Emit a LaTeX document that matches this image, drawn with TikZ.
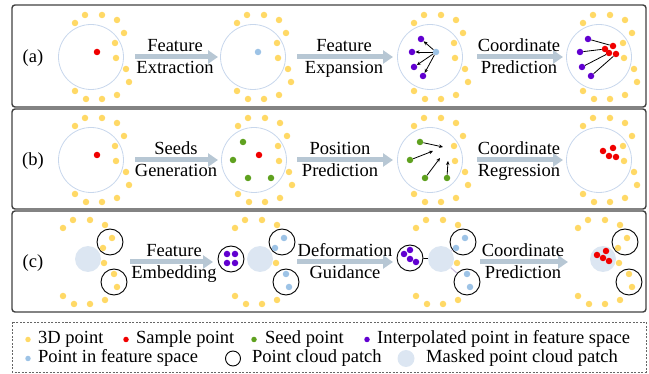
\documentclass[tikz,border=0pt]{standalone}
\usepackage{fontspec}
\setmainfont{Liberation Serif}
\usetikzlibrary{arrows.meta}
\definecolor{ptyellow}{HTML}{FFD966}
\definecolor{ptred}{HTML}{F00000}
\definecolor{ptgreen}{HTML}{5FA11F}
\definecolor{ptpurple}{HTML}{6100D0}
\definecolor{ptblue}{HTML}{9DC3E6}
\definecolor{ringc}{HTML}{C8D7EC}
\definecolor{maskfill}{HTML}{DCE6F2}
\definecolor{flowc}{HTML}{B7C7D4}
\definecolor{framec}{HTML}{404040}
\definecolor{guidec}{HTML}{CDBFDD}
\tikzset{
  ptdot/.style={circle, inner sep=0pt, minimum size=6.5pt, draw=none},
  ydot/.style={ptdot, fill=ptyellow},
  rdot/.style={ptdot, fill=ptred},
  gdot/.style={ptdot, fill=ptgreen},
  pdot/.style={ptdot, fill=ptpurple},
  bdot/.style={ptdot, fill=ptblue},
  bigring/.style={circle, draw=ringc, line width=0.8pt, minimum size=65pt, inner sep=0pt},
  patchring/.style={circle, draw=black, line width=0.9pt, minimum size=26pt, inner sep=0pt},
  maskdisk/.style={circle, fill=maskfill, minimum size=26pt, inner sep=0pt},
  flowarrow/.style={line width=5pt, draw=flowc, -{Triangle[length=10pt,width=13pt]}},
  panelframe/.style={draw=framec, line width=1.4pt, rounded corners=3pt},
  txt/.style={font=\fontsize{18.5}{22}\selectfont, inner sep=0pt},
  steplbl/.style={txt, anchor=base},
  legtxt/.style={txt, anchor=base west},
  ptarrow/.style={-{Stealth[length=4pt,width=3.5pt]}, line width=0.8pt, black},
}
% yellow ring of 3D points around centre (#2,#3); #4 = colour of the four patch points
\newcommand{\ptring}[4]{%
  \foreach \dx/\dy [count=\i] in {-6/-42, 11/-42, 26/-37, -16/-34, 25/1, -16/34, 26/38, -5/42, 11/42}
    \node[ydot] (#1y\i) at (#2+\dx, #3+\dy) {};
  \foreach \dx/\dy [count=\i] in {33/-24, 24/-14, 35/12, 38/25}
    \node[ptdot, fill=#4] (#1q\i) at (#2+\dx, #3+\dy) {};
}
\begin{document}
\begin{tikzpicture}[x=1pt, y=-1pt]
\useasboundingbox (0,0) rectangle (649,374);

% ---------- frames ----------
\draw[panelframe] (12,5) rectangle (646,107);
\draw[panelframe] (12,109) rectangle (646,209);
\draw[panelframe] (12,211) rectangle (646,312);
\draw[draw=gray!80!black, line width=0.8pt, dash pattern=on 2pt off 1.5pt] (12,322) rectangle (646,372);

% ---------- row labels ----------
\node[txt] (la) at (33,58) {(a)};
\node[txt] (lb) at (33,161) {(b)};
\node[txt] (lc) at (33,263) {(c)};

% ================= (a) =================
\node[bigring] (ra1) at (91,57) {};
\ptring{a1}{91}{57}{ptyellow}
\node[rdot] (a1r) at (97,52) {};

\node[bigring] (ra2) at (253,57) {};
\ptring{a2}{253}{57}{ptyellow}
\node[bdot] (a2b) at (258,52) {};

\node[bigring] (ra3) at (430,57) {};
\ptring{a3}{430}{57}{ptyellow}
\node[bdot] (a3b) at (436,52) {};
\node[pdot] (a3p1) at (421,39) {};
\node[pdot] (a3p2) at (412,52) {};
\node[pdot] (a3p3) at (414,67) {};
\node[pdot] (a3p4) at (423,76) {};
\foreach \k in {1,2,3,4} \draw[ptarrow] (a3b) -- (a3p\k);

\node[bigring] (ra4) at (599,57) {};
\ptring{a4}{599}{57}{ptyellow}
\node[pdot] (a4p1) at (588,39) {};
\node[pdot] (a4p2) at (580,52) {};
\node[pdot] (a4p3) at (582,67) {};
\node[pdot] (a4p4) at (591,76) {};
\node[rdot] (a4r1) at (613,46) {};
\node[rdot] (a4r2) at (605,49) {};
\node[rdot] (a4r3) at (609,53) {};
\node[rdot] (a4r4) at (616,54) {};
\foreach \k in {1,2,3,4} \draw[line width=0.8pt] (a4p\k) -- (a4r\k);

\coordinate (fa1s) at (135,57); \coordinate (fa1e) at (218,57);
\coordinate (fa2s) at (297,57); \coordinate (fa2e) at (393,57);
\coordinate (fa3s) at (477,57); \coordinate (fa3e) at (563,57);
\draw[flowarrow] (fa1s) -- (fa1e);
\draw[flowarrow] (fa2s) -- (fa2e);
\draw[flowarrow] (fa3s) -- (fa3e);
\node[steplbl] (ta1u) at (175,52) {Feature};
\node[steplbl] (ta1d) at (175,74) {Extraction};
\node[steplbl] (ta2u) at (344,52) {Feature};
\node[steplbl] (ta2d) at (344,74) {Expansion};
\node[steplbl] (ta3u) at (519,52) {Coordinate};
\node[steplbl] (ta3d) at (519,74) {Prediction};

% ================= (b) =================
\node[bigring] (rb1) at (91,160) {};
\ptring{b1}{91}{160}{ptyellow}
\node[rdot] (b1r) at (97,155) {};

\node[bigring] (rb2) at (254,160) {};
\ptring{b2}{254}{160}{ptyellow}
\node[rdot] (b2r) at (259,155) {};
\node[gdot] (b2g1) at (243,142) {};
\node[gdot] (b2g2) at (233,160) {};
\node[gdot] (b2g3) at (248,178) {};
\node[gdot] (b2g4) at (271,178) {};

\node[bigring] (rb3) at (430,160) {};
\ptring{b3}{430}{160}{ptyellow}
\node[gdot] (b3g1) at (420,142) {};
\node[gdot] (b3g2) at (410,160) {};
\node[gdot] (b3g3) at (425,178) {};
\node[gdot] (b3g4) at (447,178) {};
\coordinate (b3t1) at (443,147);
\coordinate (b3t2) at (433,151);
\coordinate (b3t3) at (440,158);
\coordinate (b3t4) at (448,161);
\foreach \k in {1,2,3,4} \draw[ptarrow] (b3g\k) -- (b3t\k);

\node[bigring] (rb4) at (599,160) {};
\ptring{b4}{599}{160}{ptyellow}
\node[rdot] (b4r1) at (603,151) {};
\node[rdot] (b4r2) at (613,148) {};
\node[rdot] (b4r3) at (609,156) {};
\node[rdot] (b4r4) at (616,157) {};

\coordinate (fb1s) at (135,160); \coordinate (fb1e) at (218,160);
\coordinate (fb2s) at (297,160); \coordinate (fb2e) at (393,160);
\coordinate (fb3s) at (477,160); \coordinate (fb3e) at (563,160);
\draw[flowarrow] (fb1s) -- (fb1e);
\draw[flowarrow] (fb2s) -- (fb2e);
\draw[flowarrow] (fb3s) -- (fb3e);
\node[steplbl] (tb1u) at (176,155) {Seeds};
\node[steplbl] (tb1d) at (176,177) {Generation};
\node[steplbl] (tb2u) at (340,155) {Position};
\node[steplbl] (tb2d) at (340,177) {Prediction};
\node[steplbl] (tb3u) at (519,155) {Coordinate};
\node[steplbl] (tb3d) at (519,177) {Regression};

% ================= (c) =================
% panel 1
\node[maskdisk] (cm1) at (88,259) {};
\node[patchring] (cu1) at (110,242) {};
\node[patchring] (cl1) at (114,282) {};
\ptring{c1}{79}{262}{ptyellow}

% panel 2
\node[patchring] (cpp2) at (231,259) {};
\node[pdot] (c2p1) at (227,254) {};
\node[pdot] (c2p2) at (235,254) {};
\node[pdot] (c2p3) at (227,263) {};
\node[pdot] (c2p4) at (235,263) {};
\node[maskdisk] (cm2) at (260,259) {};
\node[patchring] (cu2) at (282,242) {};
\node[patchring] (cl2) at (286,282) {};
\ptring{c2}{251}{262}{ptblue}

% panel 3
\node[patchring] (cpp3) at (410,258) {};
\node[pdot] (c3p1) at (404,254) {};
\node[pdot] (c3p2) at (410,250) {};
\node[pdot] (c3p3) at (410,259) {};
\node[pdot] (c3p4) at (416,262) {};
\node[maskdisk] (cm3) at (441,259) {};
\node[patchring] (cu3) at (463,242) {};
\node[patchring] (cl3) at (467,282) {};
\draw[line width=0.8pt] (cpp3) -- (cm3);
\draw[guidec, line width=1.2pt] (cm3) -- (cu3);
\draw[guidec, line width=1.2pt] (cm3) -- (cl3);
\ptring{c3}{432}{262}{ptblue}

% panel 4
\node[maskdisk] (cm4) at (603,259) {};
\node[patchring] (cu4) at (625,242) {};
\node[patchring] (cl4) at (629,282) {};
\ptring{c4}{594}{262}{ptyellow}
\node[rdot] (c4r1) at (597,255) {};
\node[rdot] (c4r2) at (606,251) {};
\node[rdot] (c4r3) at (603,258) {};
\node[rdot] (c4r4) at (609,261) {};

\coordinate (fc1s) at (130,262); \coordinate (fc1e) at (213,262);
\coordinate (fc2s) at (297,262); \coordinate (fc2e) at (393,262);
\coordinate (fc3s) at (480,262); \coordinate (fc3e) at (568,262);
\draw[flowarrow] (fc1s) -- (fc1e);
\draw[flowarrow] (fc2s) -- (fc2e);
\draw[flowarrow] (fc3s) -- (fc3e);
\node[steplbl] (tc1u) at (174,257) {Feature};
\node[steplbl] (tc1d) at (174,279) {Embedding};
\node[steplbl] (tc2u) at (345,257) {Deformation};
\node[steplbl] (tc2d) at (345,279) {Guidance};
\node[steplbl] (tc3u) at (523,257) {Coordinate};
\node[steplbl] (tc3d) at (523,279) {Prediction};

% ================= legend =================
\tikzset{legdot/.style={circle, inner sep=0pt, minimum size=5.5pt, draw=none}}
\node[legdot, fill=ptyellow] (k1) at (28,339.5) {};
\node[legtxt] (k1t) at (38,344) {3D point};
\node[legdot, fill=ptred] (k2) at (126,339.5) {};
\node[legtxt] (k2t) at (136,344) {Sample point};
\node[legdot, fill=ptgreen] (k3) at (254,339.5) {};
\node[legtxt] (k3t) at (265,344) {Seed point};
\node[legdot, fill=ptpurple] (k4) at (367,339.5) {};
\node[legtxt] (k4t) at (377,344) {Interpolated point in feature space};
\node[legdot, fill=ptblue] (k5) at (28,358.5) {};
\node[legtxt] (k5t) at (38,363) {Point in feature space};
\node[circle, draw=black, line width=0.9pt, minimum size=15pt, inner sep=0pt] (k6) at (233,358.5) {};
\node[legtxt] (k6t) at (252,363) {Point cloud patch};
\node[circle, fill=maskfill, minimum size=17pt, inner sep=0pt] (k7) at (406,358.5) {};
\node[legtxt] (k7t) at (426,363) {Masked point cloud patch};
\end{tikzpicture}
\end{document}
